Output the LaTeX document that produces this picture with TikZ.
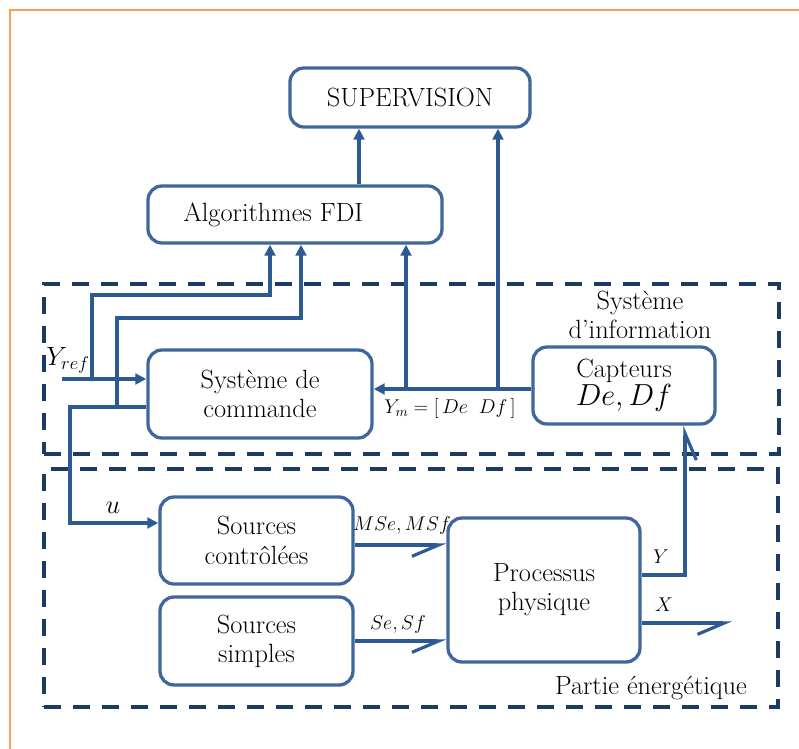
\RequirePackage{fix-cm}
\documentclass[tikz,border=0pt]{standalone}
\usepackage{amsmath}
\usepackage{xcolor}
\usepackage{tikz}
\usetikzlibrary{positioning,arrows.meta,calc}
\definecolor{boxblue}{HTML}{3F679C}
\definecolor{flowblue}{HTML}{2D5A93}
\definecolor{navy}{HTML}{1C3A66}
\definecolor{frameorange}{HTML}{F7A055}
\tikzset{
  blok/.style    ={rounded corners=0.42cm, draw=boxblue, fill=white, line width=2.8pt,
                   align=center, font=\fontsize{22.5}{25}\selectfont, inner sep=0pt},
  zone/.style    ={draw=navy, line width=2.9pt, dash pattern=on 0.5cm off 0.37cm, inner sep=0pt},
  flowarr/.style ={-{Triangle[length=0.33cm,width=0.32cm]}, draw=flowblue, line width=2.7pt},
  harparr/.style ={-{Straight Barb[right,length=0.8cm,width=0.68cm]}, draw=flowblue, line width=2.7pt},
  lbl/.style     ={font=\fontsize{22.5}{25}\selectfont, align=center, inner sep=0pt},
  sig/.style     ={font=\fontsize{17}{19}\selectfont, inner sep=0pt},
}
\begin{document}
\begin{tikzpicture}[x=0.03cm, y=-0.03cm]
\useasboundingbox (0,0) rectangle (799,749);
% ---- page frame
\draw[frameorange, line width=2.4pt] (10,749) -- (10,10) -- (799,10);

% ---- the two parts
\node[zone, minimum width=22.05cm, minimum height=5.1cm] (info) at (411.5,369) {};
\node[zone, minimum width=22.02cm, minimum height=7.14cm] (energ) at (411,588) {};
\node[lbl] (infolbl) at (640,315) {Système\\d’information};
\node[lbl] (energlbl) at (651,688) {Partie énergétique};

% ---- blocks
\node[blok, minimum width=7.2cm, minimum height=1.77cm] (sup) at (410,97.5) {SUPERVISION};
\node[blok, minimum width=8.82cm, minimum height=1.71cm] (fdi) at (295,214.5) {Algorithmes FDI\hspace{1.3cm}};
\node[blok, minimum width=6.72cm, minimum height=2.64cm] (cmd) at (260,394) {Système de\\commande};
\node[blok, minimum width=5.46cm, minimum height=2.31cm] (capt) at (624,385.5)
  {Capteurs\\[-1pt]{\fontsize{26}{26}\selectfont $De, Df$}};
\node[blok, minimum width=5.79cm, minimum height=2.61cm] (srcc) at (256.5,540.5) {Sources\\contrôlées};
\node[blok, minimum width=5.79cm, minimum height=2.64cm] (srcs) at (256.5,641) {Sources\\simples};
\node[blok, minimum width=5.76cm, minimum height=4.32cm] (proc) at (544,590) {Processus\\physique};

% ---- junctions
\coordinate (yin) at (62,379);
\coordinate (j1) at (92,379);
\coordinate (h1) at (270,295);
\coordinate (uo) at (70,407);
\coordinate (j2) at (117,407);
\coordinate (h2) at (301,318);
\coordinate (ui) at (70,523);
\coordinate (b1) at (406,389);
\coordinate (b2) at (498,389);
\coordinate (t1) at (359,243);
\coordinate (m1) at (353,545);
\coordinate (yc) at (685,575);
\coordinate (xo) at (732,623);

% ---- information flow
\draw[flowarr] (yin) -- (cmd.west |- yin);
\draw[flowarr] (j1) |- (h1) -- (h1 |- fdi.south);
\draw[flowarr] (cmd.west |- uo) -- (uo) -- (ui) -- (srcc.west |- ui);
\draw[flowarr] (j2) |- (h2) -- (h2 |- fdi.south);
\draw[flowarr] (capt.west |- b1) -- (cmd.east |- b1);
\draw[flowarr] (b1) -- (b1 |- fdi.south);
\draw[flowarr] (b2) -- (b2 |- sup.south);
\draw[flowarr] (fdi.north -| t1) -- (sup.south -| t1);

% ---- power flow
\draw[harparr] (srcc.east |- m1) -- (proc.west |- m1);
\draw[harparr] (srcs.east) -- (proc.west |- srcs.east);
\draw[harparr] (proc.east |- yc) -- (yc) -- (yc |- capt.south);
\draw[harparr] (proc.east |- xo) -- (xo);

% ---- signal names
\node[lbl] (yref) at (68,360) {$Y_{ref}$};
\node[lbl] (ulbl) at (113,508) {$u$};
\node[sig] (ymlbl) at (450,409) {$Y_m = [\,De\;\; Df\,]$};
\node[sig] (mslbl) at (402,526) {$MSe, MSf$};
\node[sig] (sslbl) at (398,625) {$Se, Sf$};
\node[sig] (ylbl) at (661,557) {$Y$};
\node[sig] (xlbl) at (664,605) {$X$};
\end{tikzpicture}
\end{document}
